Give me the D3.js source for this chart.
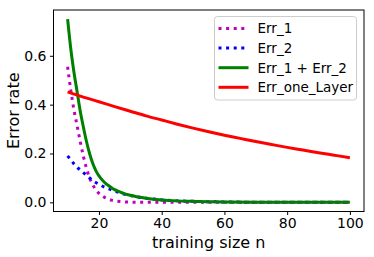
<!DOCTYPE html>
<html>
<head>
<meta charset="utf-8">
<script src="https://cdn.jsdelivr.net/npm/d3@7"></script>
<style>
  html, body { margin: 0; padding: 0; background: #fff; }
  svg { display: block; font-family: "DejaVu Sans", sans-serif; }
</style>
</head>
<body>
<svg id="chart" width="374" height="257"></svg>
<script>
// ---- data ----
const nValues = [10,11,12,13,14,15,16,17,18,19,20,21,22,23,24,25,26,27,28,29,30,32,35,40,45,50,55,60,70,80,90,100];
const err1 = [0.555,0.46,0.38,0.315,0.25,0.19,0.14,0.10,0.072,0.052,0.037,0.027,0.019,0.013,0.009,0.006,0.004,0.003,0.002,0.001,0.001,0,0,0,0,0,0,0,0,0,0,0];
const err2 = [0.19,0.174,0.158,0.144,0.133,0.122,0.111,0.10,0.089,0.081,0.074,0.067,0.061,0.056,0.051,0.046,0.042,0.038,0.034,0.031,0.028,0.023,0.017,0.010,0.006,0.004,0.0025,0.0015,0.0006,0.0002,0.0001,0];
const errSum = [0.75,0.63,0.535,0.455,0.375,0.31,0.25,0.20,0.16,0.13,0.108,0.092,0.079,0.069,0.06,0.052,0.046,0.041,0.036,0.032,0.029,0.023,0.017,0.010,0.006,0.004,0.0025,0.0015,0.0006,0.0002,0.0001,0];
const nLayer = [10,15,20,25,30,35,40,45,50,55,60,65,70,75,80,85,90,95,100];
const errOneLayer = [0.452,0.431,0.412,0.392,0.373,0.354,0.337,0.320,0.304,0.289,0.275,0.262,0.249,0.237,0.225,0.214,0.203,0.193,0.183];
const xTicks = [20,40,60,80,100];
const yTicks = [0.0,0.2,0.4,0.6];
const seriesNames = ["Err_1","Err_2","Err_1 + Err_2","Err_one_Layer"];

// ---- layout ----
const svg = d3.select("#chart");
const plot = {left: 53.5, right: 364, top: 10, bottom: 211.5};

const x = d3.scaleLinear().domain([5.5, 104.5]).range([plot.left, plot.right]);
const y = d3.scaleLinear().domain([-0.0375, 0.7875]).range([plot.bottom, plot.top]);

const series = [
  {name: seriesNames[0], xs: nValues, ys: err1, color: "#bf00bf", dash: "3,4.6"},
  {name: seriesNames[1], xs: nValues, ys: err2, color: "#0000ff", dash: "3,4.6"},
  {name: seriesNames[2], xs: nValues, ys: errSum, color: "#008000", dash: null},
  {name: seriesNames[3], xs: nLayer, ys: errOneLayer, color: "#ff0000", dash: null}
];

const line = d3.line().x(d => x(d[0])).y(d => y(d[1])).curve(d3.curveMonotoneX);

series.forEach(s => {
  const pts = s.xs.map((v, i) => [v, s.ys[i]]);
  const p = svg.append("path")
    .attr("d", line(pts))
    .attr("fill", "none")
    .attr("stroke", s.color)
    .attr("stroke-width", 3)
    .attr("stroke-linejoin", "round");
  if (s.dash) p.attr("stroke-dasharray", s.dash).attr("stroke-linecap", "butt");
});

// ---- axes ----
const xAxis = d3.axisBottom(x).tickValues(xTicks).tickSize(3.5).tickPadding(3.5).tickFormat(d3.format("d"));
const yAxis = d3.axisLeft(y).tickValues(yTicks).tickSize(3.5).tickPadding(3.5).tickFormat(d3.format(".1f"));

const gx = svg.append("g").attr("transform", `translate(0,${plot.bottom})`).call(xAxis);
const gy = svg.append("g").attr("transform", `translate(${plot.left},0)`).call(yAxis);
[gx, gy].forEach(g => {
  g.select(".domain").remove();
  g.selectAll("line").attr("stroke", "#000").attr("stroke-width", 1);
  g.selectAll("text").attr("font-size", 14).attr("fill", "#000").attr("font-family", "DejaVu Sans, sans-serif");
});

// frame
svg.append("rect")
  .attr("x", plot.left).attr("y", plot.top)
  .attr("width", plot.right - plot.left).attr("height", plot.bottom - plot.top)
  .attr("fill", "none").attr("stroke", "#000").attr("stroke-width", 1);

// axis labels
svg.append("text")
  .attr("x", (plot.left + plot.right) / 2).attr("y", 248)
  .attr("text-anchor", "middle").attr("font-size", 16).attr("fill", "#000")
  .text("training size n");
svg.append("text")
  .attr("transform", `translate(19,${(plot.top + plot.bottom) / 2}) rotate(-90)`)
  .attr("text-anchor", "middle").attr("font-size", 16).attr("fill", "#000")
  .text("Error rate");

// ---- legend ----
const lg = svg.append("g");
lg.append("rect")
  .attr("x", 214.5).attr("y", 16.5).attr("width", 142).attr("height", 83.5)
  .attr("rx", 3).attr("fill", "#fff").attr("fill-opacity", 0.8)
  .attr("stroke", "#cccccc").attr("stroke-width", 1);
const rowY = [28.5, 48, 67.7, 87.3];
series.forEach((s, i) => {
  const l = lg.append("line")
    .attr("x1", 218.5).attr("x2", 248.5).attr("y1", rowY[i]).attr("y2", rowY[i])
    .attr("stroke", s.color).attr("stroke-width", 3);
  if (s.dash) l.attr("stroke-dasharray", s.dash);
  lg.append("text")
    .attr("x", 257.5).attr("y", rowY[i]).attr("dy", "0.36em")
    .attr("font-size", 13.5).attr("fill", "#000")
    .text(s.name);
});
</script>
</body>
</html>
